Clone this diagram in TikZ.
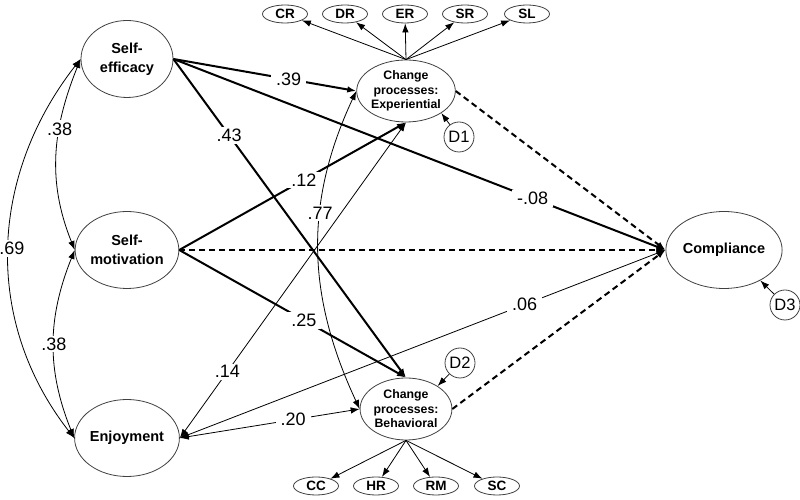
\documentclass[tikz,border=0pt]{standalone}
\usepackage{fontspec}
\setmainfont{Liberation Sans}
\usetikzlibrary{shapes.geometric,arrows.meta}
\tikzset{
  latent/.style={draw=black!75, line width=0.8pt, ellipse, inner sep=0pt, minimum width=92pt, minimum height=77pt, align=center, font=\fontsize{14.5}{19}\selectfont\bfseries},
  process/.style={latent, minimum width=90pt, minimum height=62pt, font=\fontsize{12.3}{14.5}\selectfont\bfseries},
  indicator/.style={draw=black!75, line width=0.8pt, ellipse, inner sep=0pt, minimum width=45pt, minimum height=18pt, font=\fontsize{13.5}{13.5}\selectfont\bfseries},
  disturb/.style={draw=black!75, line width=0.8pt, circle, inner sep=0pt, minimum size=30pt, font=\fontsize{16.5}{16.5}\selectfont},
  coef/.style={fill=white, inner xsep=5pt, inner ysep=2pt, font=\fontsize{18}{18}\selectfont},
  effect/.style={->, line width=2pt},
  nulleffect/.style={effect, dash pattern=on 6pt off 4pt},
  cov/.style={<->, line width=0.8pt},
  loading/.style={->, line width=0.8pt},
}

\begin{document}
\begin{tikzpicture}[x=1pt, y=1pt, >={Latex[length=9pt,width=6.5pt]}]
  \useasboundingbox (0,0) rectangle (800,500);

  \node[latent] (eff) at (127,441) {Self-\\efficacy};
  \node[latent] (mot) at (127,250) {Self-\\motivation};
  \node[latent] (enj) at (127,62) {Enjoyment};
  \node[process] (exp) at (406,409) {Change\\processes:\\Experiential};
  \node[process] (beh) at (406,91) {Change\\processes:\\Behavioral};
  \node[latent] (comp) at (724,250) {Compliance};

  % indicators
  \node[indicator] (cr) at (285,486) {CR};
  \node[indicator] (dr) at (345,486) {DR};
  \node[indicator] (er) at (405,486) {ER};
  \node[indicator] (sr) at (465,486) {SR};
  \node[indicator] (sl) at (527,486) {SL};
  \node[indicator] (cc) at (316,14) {CC};
  \node[indicator] (hr) at (376,14) {HR};
  \node[indicator] (rm) at (436,14) {RM};
  \node[indicator] (sc) at (497,14) {SC};

  \draw[loading] (exp.north) -- (cr);
  \draw[loading] (exp.north) -- (dr);
  \draw[loading] (exp.north) -- (er);
  \draw[loading] (exp.north) -- (sr);
  \draw[loading] (exp.north) -- (sl);
  \draw[loading] (beh.south) -- (cc);
  \draw[loading] (beh.south) -- (hr);
  \draw[loading] (beh.south) -- (rm);
  \draw[loading] (beh.south) -- (sc);

  % disturbances
  \node[disturb] (d1) at (459,363) {D1};
  \node[disturb] (d2) at (460,137) {D2};
  \node[disturb] (d3) at (785,195) {D3};
  \draw[loading] (d1) -- (exp.-32);
  \draw[loading] (d2) -- (beh.36);
  \draw[loading] (d3) -- (comp.-40);

  % correlations
  \draw[cov] (eff.west) to[out=248, in=112] node[coef, pos=0.36] {.38} (mot.west);
  \draw[cov] (mot.west) to[out=248, in=112] node[coef, pos=0.5] {.38} (enj.west);
  \draw[cov] (eff.west) to[out=232, in=128] node[coef, pos=0.5, xshift=3pt, inner xsep=1pt] {.69} (enj.west);
  \draw[cov] (exp.west) to[out=245, in=115] node[coef, pos=0.38] {.77} (beh.west);

  \draw[cov] (enj.east) -- node[coef, pos=0.21] {.14} (exp.south);
  \draw[cov] (enj.east) -- node[coef, pos=0.63] {.20} (beh.west);
  \draw[cov] (enj.east) -- node[coef, pos=0.71] {.06} (comp.west);

  % paths
  \draw[effect] (eff.east) -- node[coef, pos=0.63] {.39} (exp.west);
  \draw[effect] (eff.east) -- node[coef, pos=0.24] {.43} (beh.north);
  \draw[effect] (eff.east) -- node[coef, pos=0.73] {-.08} (comp.west);
  \draw[effect] (mot.east) -- node[coef, pos=0.55] {.12} (exp.south);
  \draw[effect] (mot.east) -- node[coef, pos=0.55] {.25} (beh.north);
  \draw[nulleffect] (mot.east) -- (comp.west);
  \draw[nulleffect] (exp.east) -- (comp.west);
  \draw[nulleffect] (beh.east) -- (comp.west);
\end{tikzpicture}
\end{document}
